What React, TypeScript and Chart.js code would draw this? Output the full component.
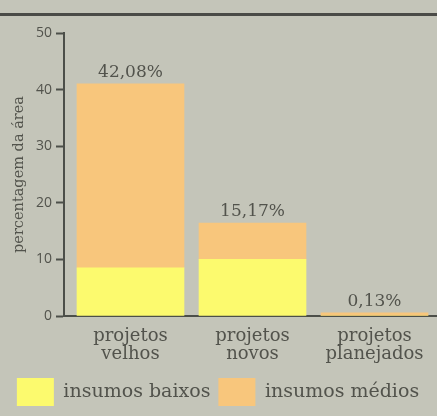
import React, { useEffect, useRef } from "react";
import { Chart, registerables } from "chart.js";

Chart.register(...registerables);

const categories: string[][] = [
  ["projetos", "velhos"],
  ["projetos", "novos"],
  ["projetos", "planejados"],
];
const lowInputs = [8.5, 10.0, 0];
const mediumInputs = [32.5, 6.4, 0.55];
const totalLabels = ["42,08%", "15,17%", "0,13%"];
const seriesNames = ["insumos baixos", "insumos médios"];
const yTitle = "percentagem da área";

const BG = "#c4c5b9";
const INK = "#52534c";
const AXIS = "#4c4f49";
const YELLOW = "#fcfa6e";
const ORANGE = "#f8c67c";

const valueLabels = {
  id: "valueLabels",
  afterDatasetsDraw(chart: any) {
    const ctx = chart.ctx;
    const top = chart.getDatasetMeta(1);
    ctx.save();
    ctx.fillStyle = INK;
    ctx.font = "17px 'DejaVu Serif'";
    ctx.textAlign = "center";
    ctx.textBaseline = "alphabetic";
    top.data.forEach((el: any, i: number) => {
      ctx.fillText(totalLabels[i], el.x, el.y - 7);
    });
    ctx.restore();
  },
};

export default function App() {
  const ref = useRef<HTMLCanvasElement>(null);
  useEffect(() => {
    if (!ref.current) return;
    const chart = new Chart(ref.current, {
      type: "bar",
      data: {
        datasets: [
          {
            label: seriesNames[0],
            data: lowInputs.map((v, i) => ({ x: i, y: v })),
            backgroundColor: YELLOW,
            borderWidth: 0,
          },
          {
            label: seriesNames[1],
            data: mediumInputs.map((v, i) => ({ x: i, y: v })),
            backgroundColor: ORANGE,
            borderWidth: 0,
          },
        ],
      },
      options: {
        responsive: false,
        animation: false,
        barThickness: 107,
        layout: { padding: { top: 33, right: 1, bottom: 0, left: 0 } },
        plugins: {
          tooltip: { enabled: false },
          legend: {
            position: "bottom",
            labels: {
              boxWidth: 37,
              boxHeight: 28,
              padding: 8,
              color: INK,
              font: { family: "'DejaVu Serif'", size: 19 },
            },
          },
        },
        scales: {
          x: {
            type: "linear",
            stacked: true,
            offset: false,
            min: -0.545,
            max: 2.504,
            afterFit: (s: any) => {
              s.height = 54;
            },
            grid: { display: false, drawTicks: false, offset: false },
            border: { display: true, color: AXIS, width: 2 },
            ticks: {
              stepSize: 1,
              includeBounds: false,
              autoSkip: false,
              maxRotation: 0,
              padding: 11,
              color: INK,
              font: { family: "'DejaVu Serif'", size: 18, lineHeight: 1.0 },
              callback: (v: any) => categories[v] ?? "",
            },
          },
          y: {
            stacked: true,
            min: 0,
            max: 50,
            afterFit: (s: any) => {
              s.width = 64;
            },
            grid: {
              drawOnChartArea: false,
              drawTicks: true,
              tickLength: 8,
              tickWidth: 2,
              color: AXIS,
            },
            border: { display: true, color: AXIS, width: 2 },
            ticks: {
              stepSize: 10,
              padding: 4,
              color: INK,
              font: { family: "'Open Sans'", size: 14 },
            },
            title: {
              display: true,
              text: yTitle,
              color: INK,
              padding: { top: 11, bottom: 0 },
              font: { family: "'DejaVu Serif'", size: 14.5 },
            },
          },
        },
      } as any,
      plugins: [valueLabels],
    });
    return () => chart.destroy();
  }, []);

  return (
    <div
      style={{
        position: "fixed",
        left: 0,
        top: 0,
        width: 437,
        height: 416,
        background: BG,
        overflow: "hidden",
      }}
    >
      <div
        style={{
          position: "absolute",
          left: 0,
          top: 13,
          width: 437,
          height: 3,
          background: "#4a4b47",
        }}
      />
      <canvas
        ref={ref}
        width={437}
        height={416}
        style={{ position: "absolute", left: 0, top: 0 }}
      />
    </div>
  );
}
